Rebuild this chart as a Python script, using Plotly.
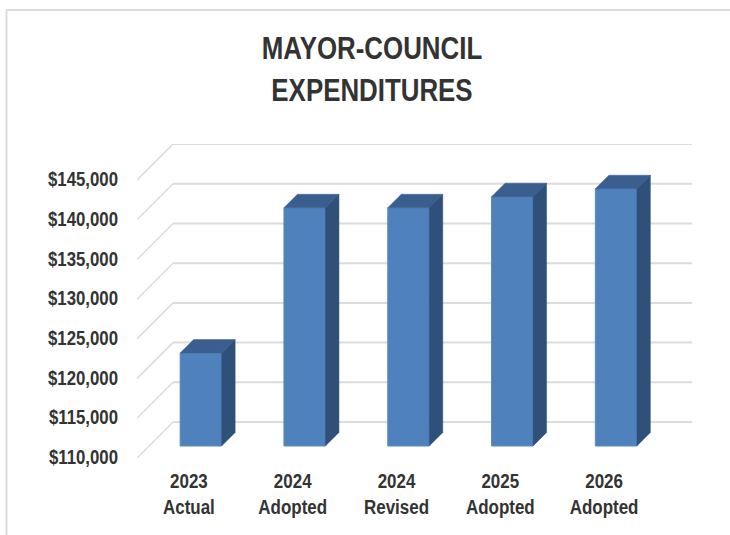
import plotly.graph_objects as go

# --- data ---
categories = ["2023<br>Actual", "2024<br>Adopted", "2024<br>Revised", "2025<br>Adopted", "2026<br>Adopted"]
values = [121700, 140000, 140000, 141400, 142400]
tick_values = [110000, 115000, 120000, 125000, 130000, 135000, 140000, 145000]
tick_labels = ["$110,000", "$115,000", "$120,000", "$125,000", "$130,000", "$135,000", "$140,000", "$145,000"]
title_text = "MAYOR-COUNCIL<br>EXPENDITURES"

# --- projection settings (pixels of the oblique 3-D look) ---
W, H = 730, 535
PX_LEFT, PX_RIGHT, PX_TOP, PX_BOTTOM = 137, 692, 144, 458
CAT_PX = 103.8
UNIT_PX = 39.7 / 5000
WALL_DEPTH = 36
BAR_NEAR = 12
BAR_FAR = 25.5
BAR_W = 41.5 / CAT_PX
Y0 = tick_values[0]

X_RANGE = [-0.5, -0.5 + (PX_RIGHT - PX_LEFT) / CAT_PX]
Y_RANGE = [Y0, Y0 + (PX_BOTTOM - PX_TOP) / UNIT_PX]

def ox(depth):
    return depth / CAT_PX

def oy(depth):
    return depth / UNIT_PX

GRID = "#dcdcdc"
FRONT = "#4f81bd"
TOP = "#3a5f8e"
SIDE = "#2f5079"
TEXT = "#333333"
FONT = "Liberation Sans, Arial, sans-serif"

shapes = []
for v in tick_values:
    shapes.append(dict(type="line", layer="below", xref="x", yref="y",
                       x0=X_RANGE[0], y0=v, x1=X_RANGE[0] + ox(WALL_DEPTH), y1=v + oy(WALL_DEPTH),
                       line=dict(color=GRID, width=1.5)))
    shapes.append(dict(type="line", layer="below", xref="x", yref="y",
                       x0=X_RANGE[0] + ox(WALL_DEPTH), y0=v + oy(WALL_DEPTH), x1=X_RANGE[1], y1=v + oy(WALL_DEPTH),
                       line=dict(color=GRID, width=2)))

# outer chart frame, partly open like the source screenshot
pw, ph = PX_RIGHT - PX_LEFT, PX_BOTTOM - PX_TOP
fx = lambda p: (p - PX_LEFT) / pw
fy = lambda p: (PX_BOTTOM - p) / ph
shapes.append(dict(type="line", xref="paper", yref="paper", x0=fx(6.5), x1=fx(6.5), y0=fy(535), y1=fy(10),
                   line=dict(color=GRID, width=2)))
shapes.append(dict(type="line", xref="paper", yref="paper", x0=fx(6), x1=fx(730), y0=fy(10), y1=fy(10),
                   line=dict(color=GRID, width=2)))

fig = go.Figure()
xs = list(range(len(values)))

# front faces
fig.add_trace(go.Bar(
    x=[i + ox(BAR_NEAR) for i in xs],
    y=[v - Y0 for v in values],
    base=[Y0 + oy(BAR_NEAR)] * len(values),
    width=BAR_W,
    marker=dict(color=FRONT, line=dict(color="#5a8ac6", width=1)),
    hoverinfo="skip",
))

# top and side faces derived from the same values
d = BAR_FAR - BAR_NEAR
for i, v in zip(xs, values):
    xl = i + ox(BAR_NEAR) - BAR_W / 2
    xr = i + ox(BAR_NEAR) + BAR_W / 2
    yt = v + oy(BAR_NEAR)
    yb = Y0 + oy(BAR_NEAR)
    fig.add_trace(go.Scatter(
        x=[xl, xr, xr + ox(d), xl + ox(d), xl],
        y=[yt, yt, yt + oy(d), yt + oy(d), yt],
        mode="lines", fill="toself", fillcolor=TOP, line=dict(color=TOP, width=0.5), hoverinfo="skip"))
    fig.add_trace(go.Scatter(
        x=[xr, xr + ox(d), xr + ox(d), xr, xr],
        y=[yt, yt + oy(d), yb + oy(d), yb, yt],
        mode="lines", fill="toself", fillcolor=SIDE, line=dict(color=SIDE, width=0.5), hoverinfo="skip"))

fig.update_layout(
    width=W, height=H,
    margin=dict(l=PX_LEFT, r=W - PX_RIGHT, t=PX_TOP, b=H - PX_BOTTOM, pad=0),
    paper_bgcolor="white", plot_bgcolor="rgba(0,0,0,0)",
    showlegend=False, shapes=shapes,
    title=dict(text=title_text, x=372 / W, xanchor="center", y=1 - 58 / H, yanchor="middle",
               font=dict(family=FONT, size=31, color=TEXT, weight=700)),
    xaxis=dict(range=X_RANGE, tickmode="array", tickvals=xs, ticktext=categories,
               showgrid=False, zeroline=False, showline=False, ticks="outside", ticklen=6,
               tickcolor="rgba(0,0,0,0)", tickfont=dict(family=FONT, size=19.5, color=TEXT, weight=700)),
    yaxis=dict(range=Y_RANGE, tickmode="array", tickvals=tick_values, ticktext=tick_labels,
               showgrid=False, zeroline=False, showline=False, ticks="outside", ticklen=14,
               tickcolor="rgba(0,0,0,0)", tickfont=dict(family=FONT, size=20, color=TEXT, weight=700)),
)

# The source uses a condensed face that is not installed: narrow the real text with CSS.
post = """
document.body.style.margin='0';
var s=document.createElement('style');
s.textContent=`
.ytick{transform-box:fill-box;transform-origin:100% 50%;transform:translateY(-1px) scaleX(.84);}
.xtick{transform-box:fill-box;transform-origin:50% 50%;transform:scaleX(.87);}
.g-gtitle{transform-box:fill-box;transform-origin:50% 50%;transform:translateY(1px) scale(.835,1.04);}
`;
document.head.appendChild(s);
"""
fig.write_html("out.html", post_script=post, config={"displayModeBar": False})
